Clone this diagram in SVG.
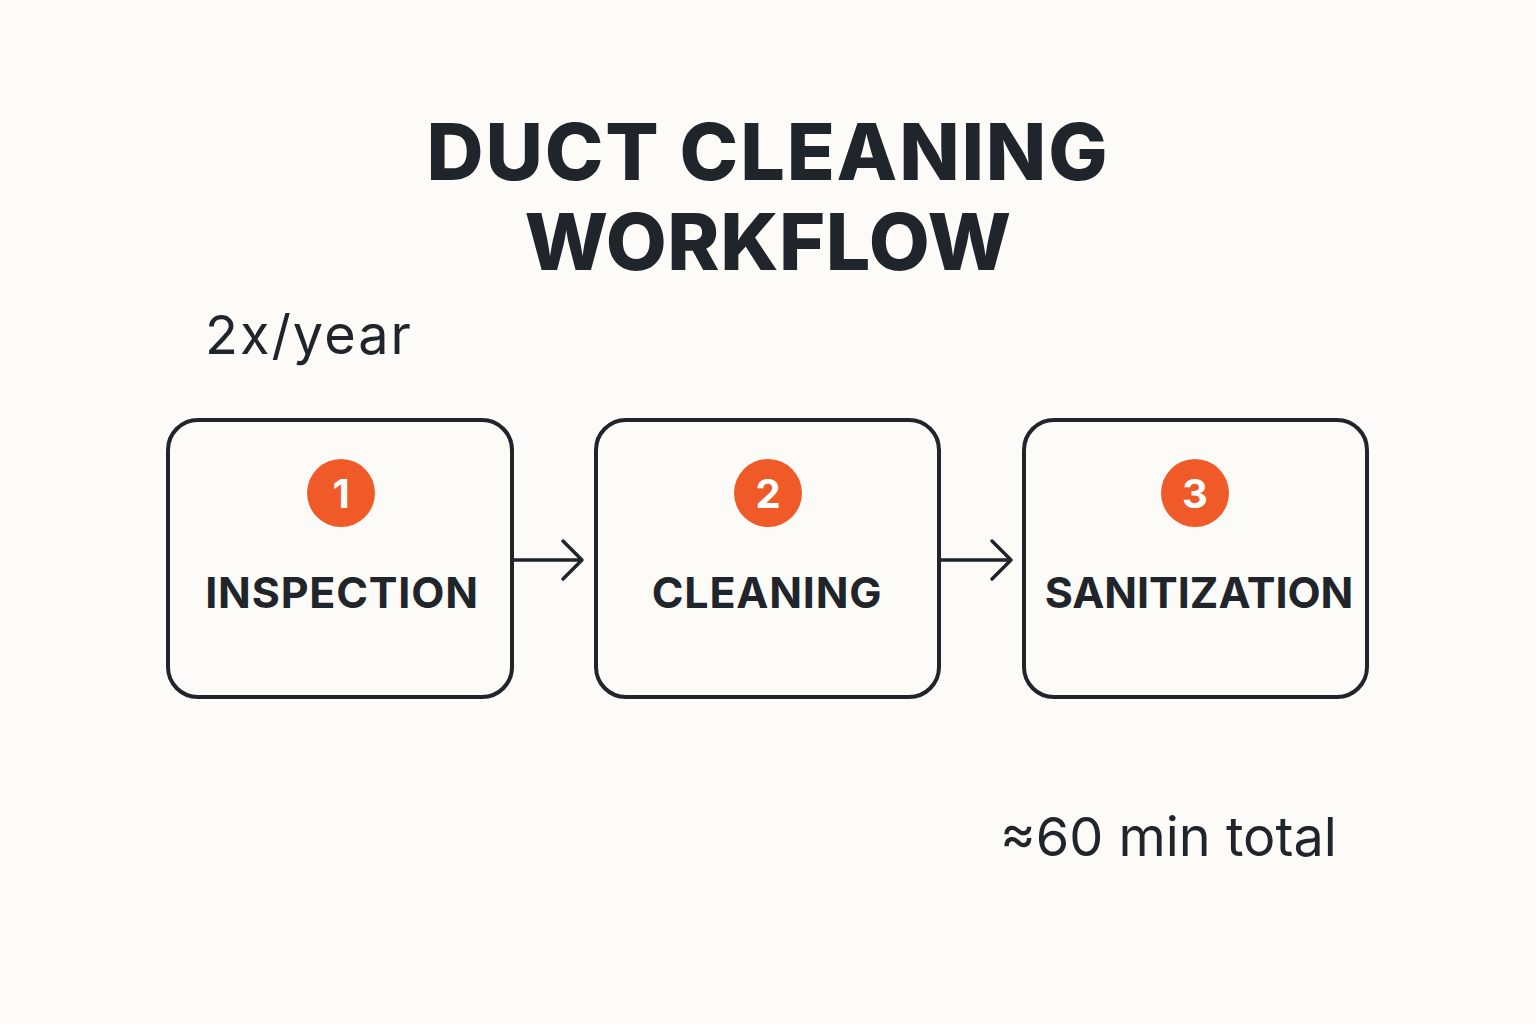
<svg xmlns="http://www.w3.org/2000/svg" width="1536" height="1024" viewBox="0 0 1536 1024">
<style>
.box{fill:none;stroke:#1f252b;stroke-width:4}
.badge{fill:#ef5a28}
.num{font-family:Inter,"Liberation Sans",sans-serif;font-weight:700;font-size:40px;fill:#ffffff;text-anchor:middle}
.lbl{font-family:Inter,"Liberation Sans",sans-serif;font-weight:700;font-size:43px;letter-spacing:0.8px;fill:#1f252b;text-anchor:middle}
.title{font-family:Inter,"Liberation Sans",sans-serif;font-weight:800;font-size:79px;letter-spacing:1.8px;fill:#1f252b;text-anchor:middle}
.note{font-family:Inter,"Liberation Sans",sans-serif;font-size:54px;fill:#1f252b}
.conn{fill:none;stroke:#1f252b;stroke-width:3.5;stroke-linecap:round;stroke-linejoin:round}
</style>
<rect width="1536" height="1024" fill="#fcfbf7"/>
<g id="title">
<text class="title" x="768" y="180">DUCT CLEANING</text>
<text class="title" x="768" y="270" style="letter-spacing:0.5px">WORKFLOW</text>
</g>
<text class="note" x="205" y="354" style="letter-spacing:2px">2x/year</text>
<text class="note" x="1000" y="856">≈60 min total</text>
<g id="node1">
<rect class="box" x="168" y="420" width="344" height="277" rx="30"/>
<circle class="badge" cx="341" cy="493" r="34"/>
<text class="num" x="341" y="508">1</text>
<text class="lbl" x="342" y="608">INSPECTION</text>
</g>
<g id="node2">
<rect class="box" x="596" y="420" width="343" height="277" rx="30"/>
<circle class="badge" cx="768" cy="493" r="34"/>
<text class="num" x="768" y="508">2</text>
<text class="lbl" x="767" y="608">CLEANING</text>
</g>
<g id="node3">
<rect class="box" x="1024" y="420" width="343" height="277" rx="30"/>
<circle class="badge" cx="1195" cy="493" r="34"/>
<text class="num" x="1195" y="508">3</text>
<text class="lbl" x="1199" y="608" style="letter-spacing:0px">SANITIZATION</text>
</g>
<g id="connectors">
<path class="conn" d="M513 560 H582 M563 541 L582 560 L563 579"/>
<path class="conn" d="M940 560 H1011 M992 541 L1011 560 L992 579"/>
</g>
</svg>
